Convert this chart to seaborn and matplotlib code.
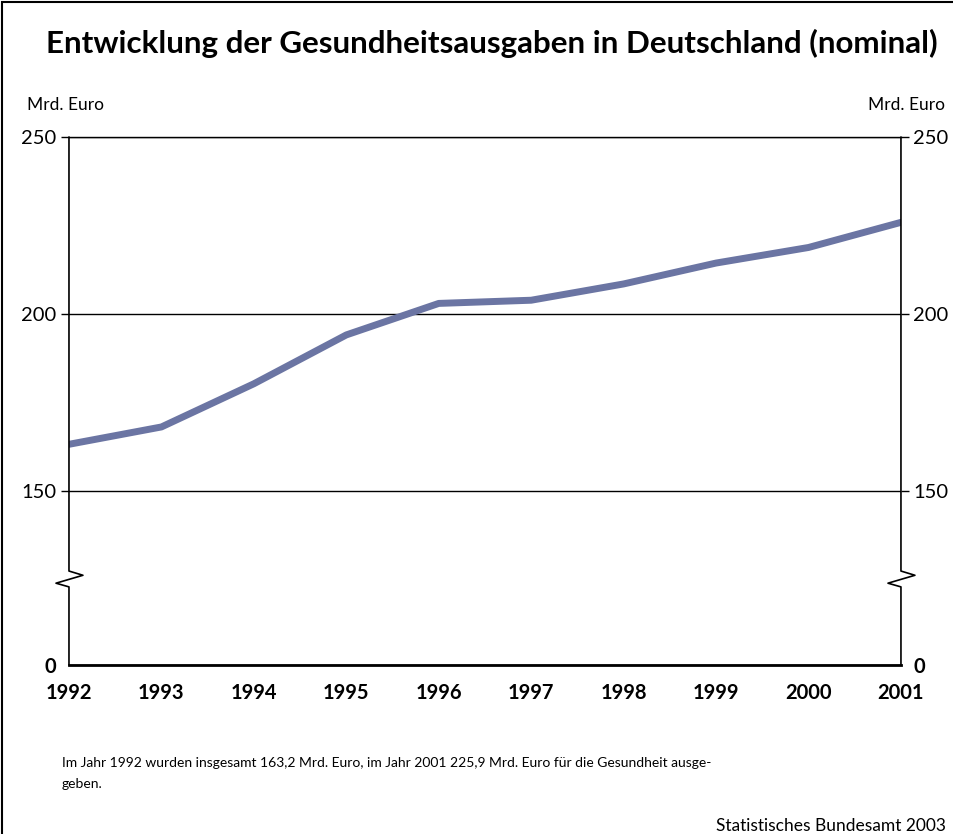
import numpy as np
import pandas as pd
import seaborn as sns
import matplotlib.pyplot as plt
from matplotlib.lines import Line2D
from matplotlib.patches import Rectangle

# data (Mrd. Euro)
years = [1992, 1993, 1994, 1995, 1996, 1997, 1998, 1999, 2000, 2001]
spending = [163.2, 168.1, 180.3, 194.1, 203.0, 203.9, 208.5, 214.4, 218.8, 225.9]
y_ticks = [0, 150, 200, 250]
y_ticklabels = ["0", "150", "200", "250"]

title = "Entwicklung der Gesundheitsausgaben in Deutschland (nominal)"
unit_label = "Mrd. Euro"
note = ("Im Jahr 1992 wurden insgesamt 163,2 Mrd. Euro, im Jahr 2001 225,9 Mrd. Euro "
        "für die Gesundheit ausge-\ngeben.")
source = "Statistisches Bundesamt 2003"

df = pd.DataFrame({"Jahr": years, "Ausgaben": spending})

sns.set_style("white")
plt.rcParams["font.family"] = ["Lato", "DejaVu Sans"]
plt.rcParams["text.color"] = "black"
plt.rcParams["xtick.color"] = "black"
plt.rcParams["ytick.color"] = "black"

# compressed scale below 150 (axis break)
LOW = 49.15
def fwd(v):
    v = np.asarray(v, dtype=float)
    return np.where(v >= 150, v, 150 - (150 - v) * LOW / 150)

def inv(t):
    t = np.asarray(t, dtype=float)
    return np.where(t >= 150, t, 150 - (150 - t) * 150 / LOW)

fig = plt.figure(figsize=(9.54, 8.34), dpi=100)
ax = fig.add_axes([0.0723, 0.2026, 0.8721, 0.6331])

sns.lineplot(data=df, x="Jahr", y="Ausgaben", ax=ax, color="#6b75a3", linewidth=5)

ax.set_yscale("function", functions=(fwd, inv))
ax.set_ylim(0, 250)
ax.set_xlim(years[0], years[-1])
ax.set_xticks(years)
ax.set_xticklabels([str(y) for y in years], fontsize=14.5, fontweight="bold")
ax.set_yticks(y_ticks)
ax.set_yticklabels(y_ticklabels, fontsize=14.5)
ax.set_xlabel("")
ax.set_ylabel("")
ax.grid(axis="y", color="black", linewidth=1)
ax.grid(axis="x", visible=False)

ax.tick_params(axis="y", which="major", left=True, right=True, labelleft=True,
               labelright=True, length=6, width=1, color="black", pad=3)
ax.tick_params(axis="x", length=10, width=1.2, color="black", pad=3, direction="out")
for t in ax.yaxis.get_major_ticks():
    if t.label1.get_text() == "0":
        t.label1.set_fontweight("bold")
        t.label2.set_fontweight("bold")
        t.tick1line.set_visible(False)
        t.tick2line.set_visible(False)

for side in ["left", "right"]:
    ax.spines[side].set_visible(False)
ax.spines["top"].set_linewidth(1)
ax.spines["top"].set_color("black")
ax.spines["bottom"].set_linewidth(2)
ax.spines["bottom"].set_color("black")

# broken left/right axis lines with zigzag
for x0 in [0.0, 1.0]:
    xs = [x0, x0, x0 - 0.0156, x0 + 0.0168, x0, x0]
    ys = [0.0, 0.148, 0.155, 0.170, 0.178, 1.0]
    ax.add_line(Line2D(xs, ys, transform=ax.transAxes, color="black",
                       linewidth=1.2, clip_on=False))

fig.text(0.516, 0.948, title, ha="center", va="center", fontsize=22.6, fontweight="bold")
fig.text(0.028, 0.874, unit_label, ha="left", va="center", fontsize=12.5)
fig.text(0.991, 0.874, unit_label, ha="right", va="center", fontsize=12.5)
fig.text(0.065, 0.053, note, ha="left", va="bottom", fontsize=10, linespacing=1.85)
fig.text(0.751, 0.010, source, ha="left", va="center", fontsize=12.5)

# outer frame (right/bottom edges fall outside the picture)
fig.patches.append(Rectangle((0.002, -0.05), 1.1, 1.048, transform=fig.transFigure,
                             fill=False, edgecolor="black", linewidth=1.5))

fig.savefig("out.png", dpi=100)
